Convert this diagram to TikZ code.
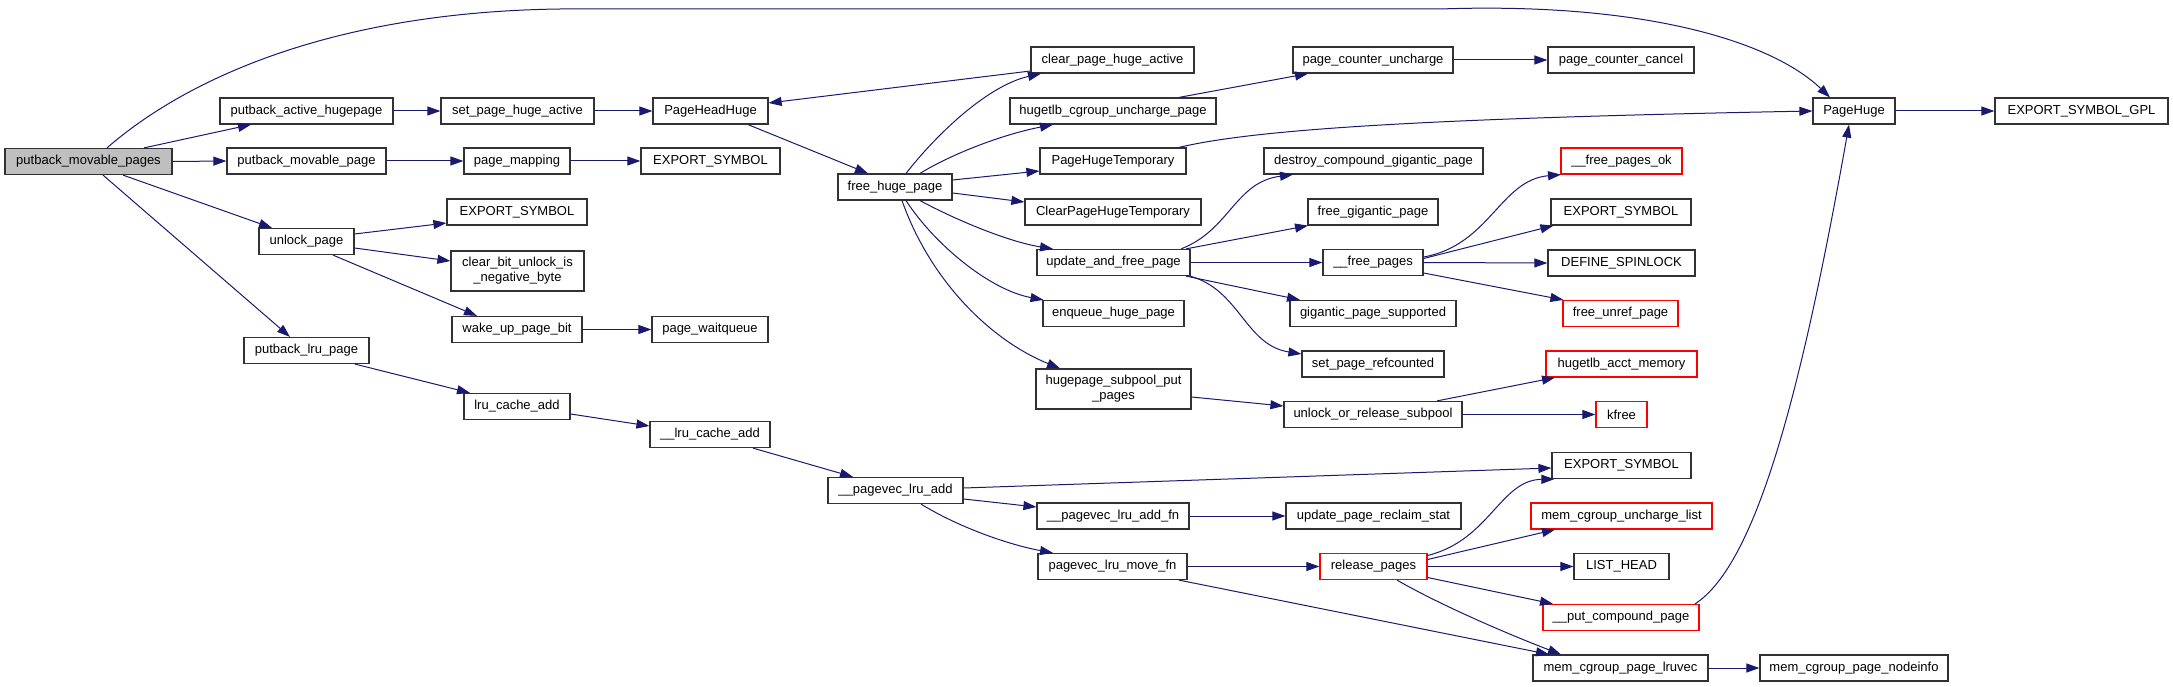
\documentclass[tikz,border=0pt]{standalone}
\usepackage{fontspec}
\setmainfont{Liberation Sans}
\usetikzlibrary{arrows.meta,calc}
\definecolor{edgecol}{RGB}{25,25,112}
\definecolor{boxline}{RGB}{50,50,50}
\definecolor{hilite}{RGB}{191,191,191}
\tikzset{
  box/.style={draw=boxline, line width=1.2pt, fill=white, rectangle, inner sep=0pt,
    minimum height=26pt, font=\fontsize{13}{15}\selectfont, align=center},
  redbox/.style={box, draw=red},
  rootbox/.style={box, fill=hilite},
  twoline/.style={minimum height=40pt},
  edge/.style={draw=edgecol, line width=1pt, -{Triangle[length=13pt,width=9pt]}}
}
\begin{document}
\begin{tikzpicture}[x=1pt,y=-1pt]
\useasboundingbox (0,0) rectangle (2173,687);
% column 0
\node[rootbox, minimum width=167] (pmp) at (88.5,161.5) {putback\_movable\_pages};
% column 1
\node[box, minimum width=173] (pah) at (306.5,111) {putback\_active\_hugepage};
\node[box, minimum width=159] (pmpage) at (306.5,161) {putback\_movable\_page};
\node[box, minimum width=95] (unlock) at (306.5,241.5) {unlock\_page};
\node[box, minimum width=125] (plru) at (306.5,350.5) {putback\_lru\_page};
% column 2
\node[box, minimum width=153] (sph) at (517.5,111) {set\_page\_huge\_active};
\node[box, minimum width=106] (pmap) at (517,161) {page\_mapping};
\node[box, minimum width=140] (es2) at (517,212) {EXPORT\_SYMBOL};
\node[box, twoline, minimum width=133] (cbu) at (517.5,271) {clear\_bit\_unlock\_is\\\_negative\_byte};
\node[box, minimum width=130] (wup) at (517,329.5) {wake\_up\_page\_bit};
\node[box, minimum width=106] (lca) at (517,406.5) {lru\_cache\_add};
% column 3
\node[box, minimum width=115] (phh) at (710.5,111) {PageHeadHuge};
\node[box, minimum width=139] (es1) at (710.5,161) {EXPORT\_SYMBOL};
\node[box, minimum width=116] (pwq) at (710,329.5) {page\_waitqueue};
\node[box, minimum width=120] (ulca) at (710,434.5) {\_\_lru\_cache\_add};
% column 4
\node[box, minimum width=114] (fhp) at (895,187) {free\_huge\_page};
\node[box, minimum width=135] (pla) at (895.5,490.5) {\_\_pagevec\_lru\_add};
% column 5
\node[box, minimum width=163] (cpha) at (1112.5,60) {clear\_page\_huge\_active};
\node[box, minimum width=206] (hcup) at (1113,111) {hugetlb\_cgroup\_uncharge\_page};
\node[box, minimum width=146] (pht) at (1113,161) {PageHugeTemporary};
\node[box, minimum width=176] (cpht) at (1113,212) {ClearPageHugeTemporary};
\node[box, minimum width=153] (uafp) at (1113.5,262.5) {update\_and\_free\_page};
\node[box, minimum width=141] (ehp) at (1113.5,313.5) {enqueue\_huge\_page};
\node[box, twoline, minimum width=155] (hspp) at (1113.5,389) {hugepage\_subpool\_put\\\_pages};
\node[box, minimum width=152] (plaf) at (1113,516) {\_\_pagevec\_lru\_add\_fn};
\node[box, minimum width=149] (plmf) at (1112.5,566.5) {pagevec\_lru\_move\_fn};
% column 6
\node[box, minimum width=160] (pcu) at (1373,60) {page\_counter\_uncharge};
\node[box, minimum width=219] (dcgp) at (1373.5,161) {destroy\_compound\_gigantic\_page};
\node[box, minimum width=130] (fgp) at (1373,212) {free\_gigantic\_page};
\node[box, minimum width=100] (ufp) at (1373,262.5) {\_\_free\_pages};
\node[box, minimum width=166] (gps) at (1373,313.5) {gigantic\_page\_supported};
\node[box, minimum width=142] (spr) at (1373,364) {set\_page\_refcounted};
\node[box, minimum width=178] (uors) at (1373,414.5) {unlock\_or\_release\_subpool};
\node[box, minimum width=175] (upr) at (1373.5,516) {update\_page\_reclaim\_stat};
\node[redbox, minimum width=107] (rp) at (1373.5,566.5) {release\_pages};
% column 7
\node[box, minimum width=146] (pcc) at (1621,60) {page\_counter\_cancel};
\node[redbox, minimum width=121] (fpo) at (1621.5,161) {\_\_free\_pages\_ok};
\node[box, minimum width=140] (es3) at (1621,212) {EXPORT\_SYMBOL};
\node[box, minimum width=147] (dsl) at (1621.5,263) {DEFINE\_SPINLOCK};
\node[redbox, minimum width=115] (fup) at (1620.5,313.5) {free\_unref\_page};
\node[redbox, minimum width=151] (ham) at (1621.5,364) {hugetlb\_acct\_memory};
\node[redbox, minimum width=51] (kfree) at (1621.5,414.5) {kfree};
\node[box, minimum width=139] (es4) at (1621.5,465.5) {EXPORT\_SYMBOL};
\node[redbox, minimum width=181] (mcul) at (1621.5,516) {mem\_cgroup\_uncharge\_list};
\node[box, minimum width=95] (lh) at (1621.5,566.5) {LIST\_HEAD};
\node[redbox, minimum width=156] (pcp) at (1621,617.5) {\_\_put\_compound\_page};
\node[box, minimum width=175] (mcpl) at (1620.5,668) {mem\_cgroup\_page\_lruvec};
% column 8
\node[box, minimum width=82] (ph) at (1854,111) {PageHuge};
\node[box, minimum width=188] (mcpn) at (1854,668) {mem\_cgroup\_page\_nodeinfo};
% column 9
\node[box, minimum width=173] (esgpl) at (2081.5,111) {EXPORT\_SYMBOL\_GPL};

% edges from putback_movable_pages
\draw[edge] ($(pmp.north)+(18.5,0)$) .. controls (185,80) and (330,12) .. (560,9) -- (1440,9) .. controls (1640,2) and (1770,40) .. ($(ph.north)+(-24,0)$);
\draw[edge] ($(pmp.north)+(55.5,0)$) -- ($(pah.south)+(-55.5,0)$);
\draw[edge] (pmp.east) -- (pmpage.west);
\draw[edge] ($(pmp.south)+(34.5,0)$) -- ($(unlock.north)+(-34.5,0)$);
\draw[edge] ($(pmp.south)+(14.5,0)$) -- ($(plru.north)+(-16.5,0)$);
% column 1 -> 2 -> 3
\draw[edge] (pah.east) -- (sph.west);
\draw[edge] (sph.east) -- (phh.west);
\draw[edge] (pmpage.east) -- (pmap.west);
\draw[edge] (pmap.east) -- (es1.west);
\draw[edge] ($(unlock.east)+(0,-7.5)$) -- ($(es2.west)+(0,11)$);
\draw[edge] ($(unlock.east)+(0,6.5)$) -- ($(cbu.west)+(0,-10)$);
\draw[edge] ($(unlock.south)+(26.5,0)$) -- ($(wup.north)+(-40,0)$);
\draw[edge] (wup.east) -- (pwq.west);
\draw[edge] ($(plru.south)+(48.5,0)$) -- ($(lca.north)+(-47,0)$);
\draw[edge] ($(lca.east)+(0,7.5)$) -- ($(ulca.west)+(0,-8.5)$);
\draw[edge] ($(ulca.south)+(43,0)$) -- ($(pla.north)+(-42.5,0)$);
% PageHeadHuge / free_huge_page
\draw[edge] ($(phh.south)+(37.5,0)$) -- ($(fhp.north)+(-27,0)$);
\draw[edge] ($(cpha.west)+(0,11)$) -- ($(phh.east)+(0,-8)$);
\draw[edge] ($(fhp.north)+(11,0)$) .. controls (940,130) and (990,85) .. ($(cpha.south)+(-71.5,0)$);
\draw[edge] ($(fhp.north)+(25,0)$) .. controls (950,155) and (1000,135) .. ($(hcup.south)+(-60,0)$);
\draw[edge] ($(fhp.east)+(0,-7)$) -- ($(pht.west)+(0,10)$);
\draw[edge] ($(fhp.east)+(0,6)$) -- ($(cpht.west)+(0,-10)$);
\draw[edge] ($(fhp.south)+(25,0)$) .. controls (960,222) and (1010,242) .. ($(uafp.north)+(-60.5,0)$);
\draw[edge] ($(fhp.south)+(11,0)$) .. controls (935,245) and (990,290) .. ($(ehp.north)+(-70,0)$);
\draw[edge] ($(fhp.south)+(7,0)$) .. controls (930,280) and (990,340) .. ($(hspp.north)+(-53.5,0)$);
% column 5 -> 6
\draw[edge] ($(hcup.north)+(66,0)$) -- ($(pcu.south)+(-65,0)$);
\draw[edge] (pcu.east) -- (pcc.west);
\draw[edge] ($(pht.north)+(66,0)$) .. controls (1260,128) and (1450,118) .. (ph.west);
\draw[edge] ($(uafp.north)+(67.5,0)$) .. controls (1230,230) and (1235,182) .. ($(dcgp.south)+(-80.5,0)$);
\draw[edge] ($(uafp.north)+(72.5,0)$) -- ($(fgp.south)+(-65,0)$);
\draw[edge] (uafp.east) -- (ufp.west);
\draw[edge] ($(uafp.south)+(72.5,0)$) -- ($(gps.north)+(-73,0)$);
\draw[edge] ($(uafp.south)+(76.5,0)$) .. controls (1240,290) and (1245,345) .. ($(spr.west)+(0,-10)$);
\draw[edge] ($(hspp.east)+(0,8)$) -- ($(uors.west)+(0,-8.5)$);
\draw[edge] ($(pla.east)+(0,-2.5)$) -- ($(es4.west)+(0,2.5)$);
\draw[edge] ($(pla.east)+(0,8.5)$) -- ($(plaf.west)+(0,-9)$);
\draw[edge] ($(pla.south)+(25.5,0)$) .. controls (960,528) and (1010,545) .. ($(plmf.north)+(-59.5,0)$);
\draw[edge] (plaf.east) -- (upr.west);
\draw[edge] (plmf.east) -- (rp.west);
\draw[edge] ($(plmf.south)+(66.5,0)$) -- ($(mcpl.north)+(-71.5,0)$);
% column 6 -> 7
\draw[edge] ($(ufp.east)+(0,-5.5)$) .. controls (1490,245) and (1500,180) .. ($(fpo.south)+(-60.5,0)$);
\draw[edge] ($(ufp.east)+(0,-4)$) -- ($(es3.south west)+(3,0)$);
\draw[edge] (ufp.east) -- (dsl.west);
\draw[edge] ($(ufp.east)+(0,10.5)$) -- ($(fup.north west)+(1,0)$);
\draw[edge] ($(uors.north)+(64,0)$) -- ($(ham.south)+(-66.5,0)$);
\draw[edge] (uors.east) -- (kfree.west);
\draw[edge] ($(rp.east)+(0,-11)$) .. controls (1490,540) and (1500,480) .. ($(es4.south west)+(3,0)$);
\draw[edge] ($(rp.east)+(0,-7)$) -- ($(mcul.south)+(-66.5,0)$);
\draw[edge] (rp.east) -- (lh.west);
\draw[edge] ($(rp.east)+(0,11)$) -- ($(pcp.north)+(-68,0)$);
\draw[edge] ($(rp.south)+(23.5,0)$) .. controls (1440,605) and (1510,635) .. ($(mcpl.north)+(-59.5,0)$);
% column 7 -> 8 -> 9
\draw[edge] ($(pcp.north)+(74,0)$) .. controls (1755,565) and (1800,400) .. ($(ph.south)+(-5,0)$);
\draw[edge] (mcpl.east) -- (mcpn.west);
\draw[edge] (ph.east) -- (esgpl.west);
\end{tikzpicture}
\end{document}
